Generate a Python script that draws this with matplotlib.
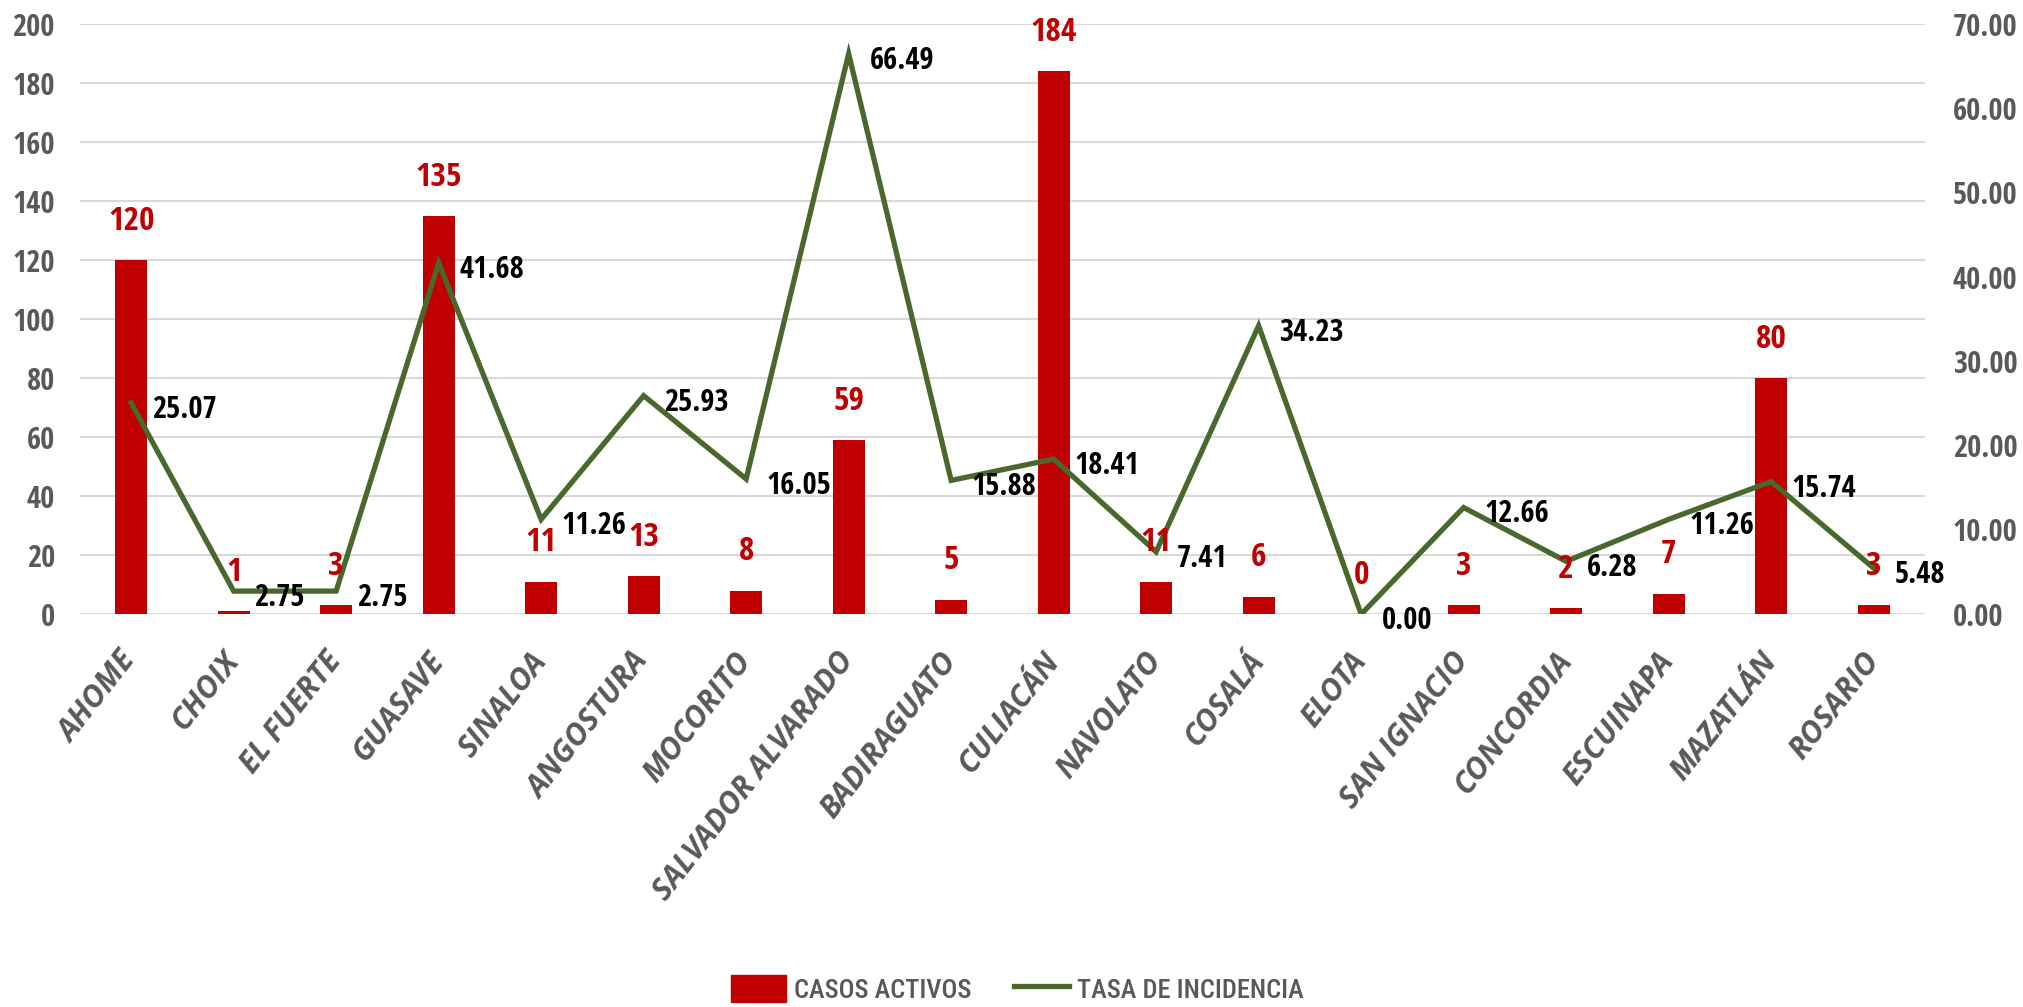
import matplotlib
matplotlib.use('Agg')
import matplotlib.pyplot as plt
from matplotlib import font_manager as fm
from matplotlib.patches import Patch
from matplotlib.lines import Line2D

# datos por municipio
municipios = ['AHOME', 'CHOIX', 'EL FUERTE', 'GUASAVE', 'SINALOA', 'ANGOSTURA',
              'MOCORITO', 'SALVADOR ALVARADO', 'BADIRAGUATO', 'CULIACÁN', 'NAVOLATO',
              'COSALÁ', 'ELOTA', 'SAN IGNACIO', 'CONCORDIA', 'ESCUINAPA', 'MAZATLÁN',
              'ROSARIO']
casos_activos = [120, 1, 3, 135, 11, 13, 8, 59, 5, 184, 11, 6, 0, 3, 2, 7, 80, 3]
tasa_incidencia = [25.07, 2.75, 2.75, 41.68, 11.26, 25.93, 16.05, 66.49, 15.88, 18.41,
                   7.41, 34.23, 0.00, 12.66, 6.28, 11.26, 15.74, 5.48]
ticks_izq = [0, 20, 40, 60, 80, 100, 120, 140, 160, 180, 200]
ticks_der = [0, 10, 20, 30, 40, 50, 60, 70]

ROJO = '#C00000'
VERDE = '#48692B'
GRIS = '#595959'


def elegir_fuente(opciones):
    nombres = {f.name for f in fm.fontManager.ttflist}
    for o in opciones:
        if o in nombres:
            return [o, 'DejaVu Sans']
    return ['DejaVu Sans']


F_NUM = elegir_fuente(['Open Sans Condensed', 'Roboto Condensed', 'Fira Sans Condensed'])
F_ITAL = elegir_fuente(['Open Sans', 'Roboto'])
F_LEY = elegir_fuente(['Roboto Condensed', 'Fira Sans Condensed'])

plt.rcParams['font.family'] = F_NUM

fig = plt.figure(figsize=(20.23, 10.07), dpi=100)
ax = fig.add_axes([0.0395, 0.390, 0.912, 0.586])
ax2 = ax.twinx()

x = list(range(len(municipios)))

# barras
ax.bar(x, casos_activos, width=0.31, color=ROJO, zorder=3)
ax.set_ylim(0, 200)
ax.set_yticks(ticks_izq)
ax.set_xlim(-0.5, len(municipios) - 0.5)
ax.grid(axis='y', color='#D9D9D9', linewidth=1.5, zorder=0)
ax.set_axisbelow(True)

# linea
ax2.plot(x, tasa_incidencia, color=VERDE, linewidth=3.8, zorder=3, solid_joinstyle='miter')
ax2.set_ylim(0, 70)
ax2.set_yticks(ticks_der)
ax2.set_yticklabels(['%.2f' % t for t in ticks_der])

for a in (ax, ax2):
    for s in a.spines.values():
        s.set_visible(False)
    a.tick_params(length=0, labelsize=22, labelcolor=GRIS)
    for lbl in a.get_yticklabels():
        lbl.set_fontweight('bold')
        lbl.set_family(F_NUM)

ax.tick_params(axis='y', pad=18)
ax2.tick_params(axis='y', pad=20)

ax.set_xticks(x)
ax.set_xticklabels(municipios, rotation=52, ha='right', va='center',
                   rotation_mode='anchor', fontsize=22, fontweight='bold',
                   fontstyle='italic', color=GRIS, family=F_ITAL)
ax.tick_params(axis='x', pad=30)

# etiquetas de valores (encima de todo)
for i, v in enumerate(casos_activos):
    ax2.annotate(str(v), xy=(i, v), xycoords=ax.transData, xytext=(0, 28),
                 textcoords='offset points', ha='center', va='center',
                 fontsize=24, fontweight='bold', color=ROJO, zorder=5, family=F_NUM)

for i, t in enumerate(tasa_incidencia):
    ax2.annotate('%.2f' % t, xy=(i, t), xytext=(15, -5), textcoords='offset points',
                 ha='left', va='center', fontsize=22, fontweight='bold',
                 color='black', zorder=5, family=F_NUM)

# leyenda
handles = [Patch(facecolor=ROJO, edgecolor=ROJO),
           Line2D([0], [0], color=VERDE, linewidth=3.8)]
fig.legend(handles, ['CASOS ACTIVOS', 'TASA DE INCIDENCIA'], loc='center',
           bbox_to_anchor=(0.503, 0.018), ncol=2, frameon=False,
           prop={'family': F_LEY, 'size': 19, 'weight': 500},
           handlelength=2.1, handleheight=1.2, handletextpad=0.3, columnspacing=1.6,
           labelcolor=GRIS)

fig.savefig('out.png', dpi=100)
